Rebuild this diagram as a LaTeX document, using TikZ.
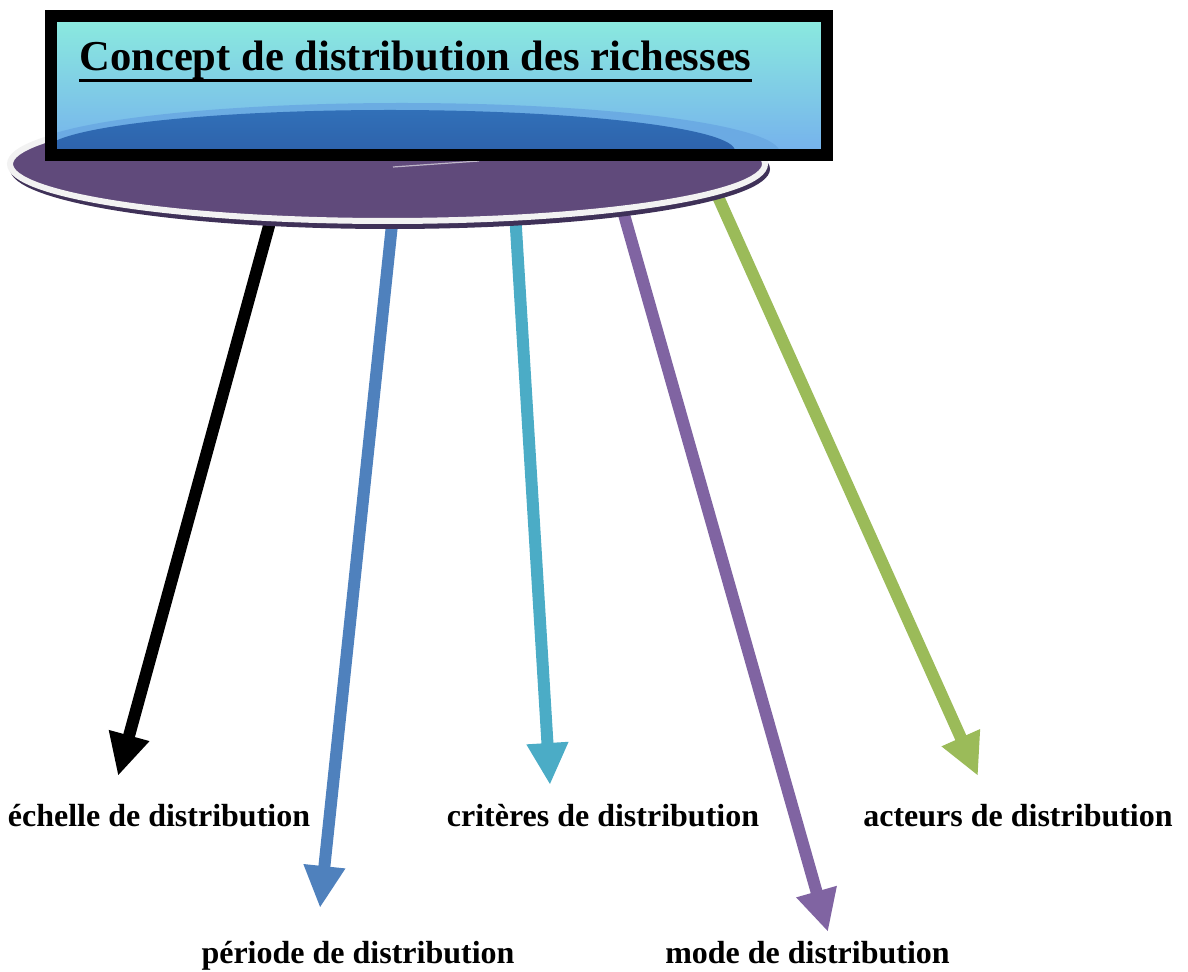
\documentclass[tikz,border=0pt]{standalone}
\usepackage{fontspec}
\setmainfont{Liberation Serif}
\usetikzlibrary{arrows.meta}
\definecolor{purp}{HTML}{604A7B}
\definecolor{ringc}{HTML}{F2F2F2}
\definecolor{shadowc}{HTML}{3F3158}
\definecolor{boxtop}{HTML}{8AE9DF}
\definecolor{boxbot}{HTML}{76B3EC}
\definecolor{captop}{HTML}{3170B8}
\definecolor{capbot}{HTML}{2A559E}
\definecolor{lightband}{HTML}{69A8E2}
\definecolor{cblue}{HTML}{4F81BD}
\definecolor{cteal}{HTML}{4BACC6}
\definecolor{cpurple}{HTML}{8064A2}
\definecolor{cgreen}{HTML}{9BBB59}
\tikzset{
  arr/.style={line width=6pt, -{Triangle[width=19.5pt,length=21pt]}},
  lbl/.style={anchor=base, inner sep=0pt, font=\fontsize{16}{19}\selectfont\bfseries},
}
\begin{document}
\begin{tikzpicture}[x=0.5pt,y=-0.5pt]
\useasboundingbox (0,0) rectangle (1188,972);
% arrow coordinates
\coordinate (s1) at (272,215);
\coordinate (t1) at (118,776);
\coordinate (s2) at (393,215);
\coordinate (t2) at (320,908);
\coordinate (s3) at (515,212);
\coordinate (t3) at (550,785);
\coordinate (s4) at (621,204);
\coordinate (t4) at (828,932);
\coordinate (s5) at (715,190);
\coordinate (t5) at (978,776);
% arrows (drawn first, covered by the ellipse at their start)
\draw[arr, black] (s1) -- (t1);
\draw[arr, cblue] (s2) -- (t2);
\draw[arr, cteal] (s3) -- (t3);
\draw[arr, cpurple] (s4) -- (t4);
\draw[arr, cgreen] (s5) -- (t5);
% ellipse
\fill[shadowc] (390,169) ellipse [x radius=380, y radius=60];
\filldraw[fill=purp, draw=ringc, line width=3pt] (387.5,164) ellipse [x radius=377.5, y radius=57];
\coordinate (el) at (387.5,164);
\draw[white, opacity=.6, line width=0.6pt] (393,167) -- (479,161);
% box
\shade[top color=boxtop, bottom color=boxbot] (57,22) rectangle (821,149);
\begin{scope}
  \clip (57,22) rectangle (821,149);
  \fill[lightband, opacity=.85] (402,153) ellipse [x radius=378, y radius=50];
  \shade[top color=captop, bottom color=capbot] (390,151) ellipse [x radius=345, y radius=41];
\end{scope}
\draw[line width=6pt] (51,16) rectangle (827,155);
% title
\node[anchor=base west, inner sep=0pt, font=\fontsize{21.3}{25}\selectfont\bfseries] (title) at (79,71) {Concept de distribution des richesses};
\draw[line width=1.5pt] ([yshift=-4.7pt]title.base west) -- ([yshift=-4.7pt]title.base east);
% labels
\node[lbl] (l1) at (159,826) {échelle de distribution};
\node[lbl] (l2) at (358,963) {période de distribution};
\node[lbl] (l3) at (603,826) {critères de distribution};
\node[lbl] (l4) at (807.5,963) {mode de distribution};
\node[lbl] (l5) at (1018,826) {acteurs de distribution};
\end{tikzpicture}
\end{document}
